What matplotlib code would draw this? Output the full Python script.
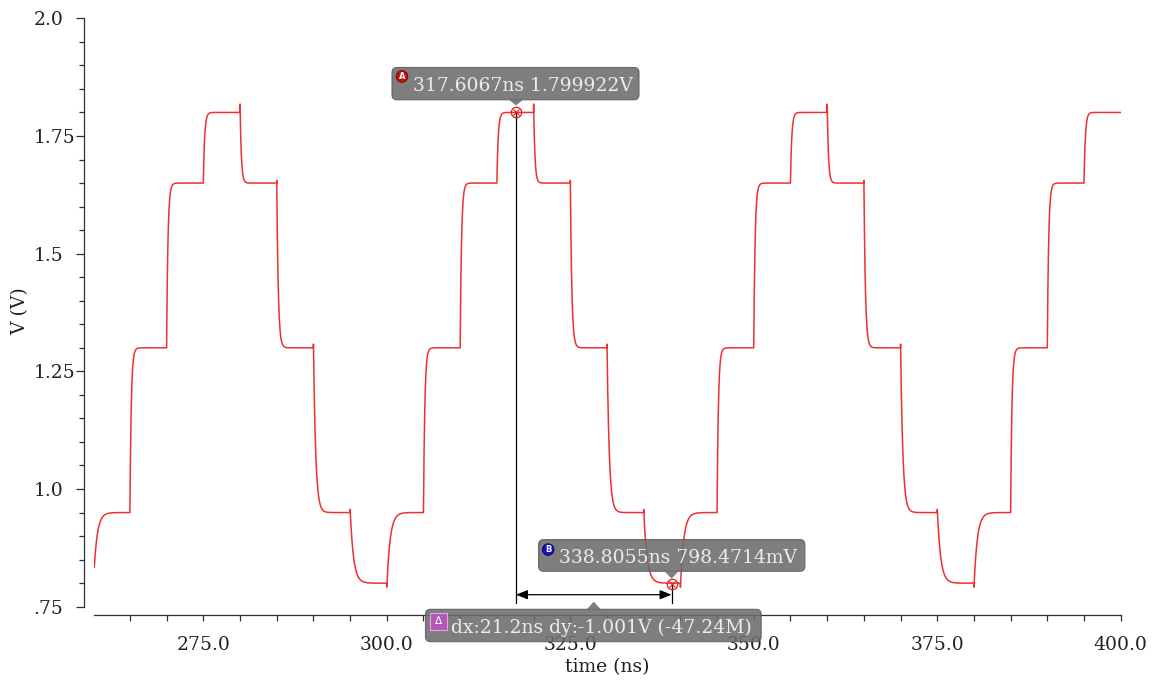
import numpy as np
import matplotlib
matplotlib.use("Agg")
import matplotlib.pyplot as plt
from matplotlib.patches import FancyBboxPatch, Polygon, Circle, Rectangle
from matplotlib.ticker import MultipleLocator, FixedLocator, FixedFormatter, FormatStrFormatter
from matplotlib.transforms import IdentityTransform

plt.rcParams["font.family"] = ["DejaVu Serif"]

# transient window (ns)
t_first, t_last = 260.15, 400.0
cycle_origin = 260.0
step_ns = 5.0

# output level of each 5 ns step (V); the pattern repeats every 40 ns
step_levels = [0.95, 1.30, 1.65, 1.80, 1.65, 1.30, 0.95, 0.80]
# switching glitch at the start of each step (V)
step_glitch = [-0.012, 0.0, 0.0, 0.0, 0.028, 0.024, 0.020, 0.010]
# settling time constant of each step (ns)
step_tau = [0.45, 0.18, 0.18, 0.18, 0.17, 0.20, 0.30, 0.45]

y_ticks = [0.75, 1.0, 1.25, 1.5, 1.75, 2.0]
y_tick_labels = [".75", "1.0", "1.25", "1.5", "1.75", "2.0"]

marker_a = (317.6067, 1.799922)
marker_b = (338.8055, 0.7984714)
label_a = "317.6067ns 1.799922V"
label_b = "338.8055ns 798.4714mV"
label_delta = "dx:21.2ns dy:-1.001V (-47.24M)"

# ---- build the staircase trace from the step table ----
lv = np.array(step_levels)
gl = np.array(step_glitch)
tau = np.array(step_tau)
t = np.arange(t_first, t_last, 0.01)
k = np.floor((t - cycle_origin) / step_ns).astype(int)
idx = k % len(lv)
target = lv[idx]
start = lv[(idx - 1) % len(lv)] + gl[idx]
dt = t - (cycle_origin + k * step_ns)
v = target + (start - target) * np.exp(-dt / tau[idx])

# ---- figure / axes ----
W, H = 1157, 684
fig = plt.figure(figsize=(W / 100, H / 100), dpi=100)
fig.patch.set_facecolor("white")
x0, x1, ytop, ybot = 94.3, 1120.7, 18.3, 606.7
ax = fig.add_axes([x0 / W, 1 - ybot / H, (x1 - x0) / W, (ybot - ytop) / H])
ax.set_facecolor("white")

ax.plot(t, v, color="#f03030", lw=1.1, zorder=2)
ax.set_xlim(t_first, t_last)
ax.set_ylim(0.75, 2.0)

PX = 0.72  # points per pixel at 100 dpi
for s in ("top", "right"):
    ax.spines[s].set_visible(False)
ax.spines["left"].set_position(("outward", 10.3 * PX))
ax.spines["bottom"].set_position(("outward", 8.3 * PX))
for s in ("left", "bottom"):
    ax.spines[s].set_color("#303030")
    ax.spines[s].set_linewidth(0.9)

ax.yaxis.set_major_locator(FixedLocator(y_ticks))
ax.yaxis.set_major_formatter(FixedFormatter(y_tick_labels))
ax.yaxis.set_minor_locator(MultipleLocator(0.05))
ax.xaxis.set_major_locator(MultipleLocator(25))
ax.xaxis.set_major_formatter(FormatStrFormatter("%.1f"))
ax.xaxis.set_minor_locator(MultipleLocator(5))

ax.tick_params(axis="y", which="major", length=8 * PX, width=0.9, pad=30.5,
               labelsize=13.5, color="#303030", labelcolor="#222222")
ax.tick_params(axis="y", which="minor", length=5 * PX, width=0.9, color="#303030")
ax.tick_params(axis="x", which="both", length=6 * PX, width=0.9, pad=10.5,
               labelsize=13.5, color="#303030", labelcolor="#222222")
plt.setp(ax.get_yticklabels(), ha="left")

fig.text(20 / W, 1 - 311 / H, "V (V)", rotation=90, ha="center", va="center",
         fontsize=13.5, color="#222222")
fig.text(607 / W, 1 - 667 / H, "time (ns)", ha="center", va="center",
         fontsize=13.5, color="#222222")

# ---- cursors ----
cursor_red = "#e02020"
line_bottom = 0.757
arrow_y = 0.7755
for (mx, my) in (marker_a, marker_b):
    ax.plot([mx, mx], [my, line_bottom], color="black", lw=0.9, zorder=3)
    ax.plot(mx, my, "o", ms=7.5, mfc="none", mec=cursor_red, mew=0.9, zorder=5)
    ax.plot(mx, my, "x", ms=4.5, mec=cursor_red, mew=0.8, zorder=5)
ax.annotate("", xy=(marker_b[0], arrow_y), xytext=(marker_a[0], arrow_y),
            arrowprops=dict(arrowstyle="<|-|>,head_length=0.7,head_width=0.28",
                            color="black", lw=0.9, mutation_scale=10,
                            shrinkA=0, shrinkB=0), zorder=4)

# ---- callout boxes (drawn in pixel space, y measured downward) ----
ident = IdentityTransform()
BOX_FC = "#6c6c6c"
BOX_ALPHA = 0.88
TXT = "#ececec"


def to_img(x, y):
    X, Y = ax.transData.transform((x, y))
    return X, H - Y


def P(x, y):
    return (x, H - y)


def callout(left, top, right, bottom, tip_x, tip_y, base_y):
    box = FancyBboxPatch(P(left, bottom), right - left, bottom - top,
                         boxstyle="round,pad=0,rounding_size=5", transform=ident,
                         fc=BOX_FC, ec="#5c5c5c", lw=0.8, alpha=BOX_ALPHA, zorder=6)
    fig.add_artist(box)
    tri = Polygon([P(tip_x - 7, base_y), P(tip_x + 7, base_y), P(tip_x, tip_y)],
                  closed=True, transform=ident, fc=BOX_FC, ec="none",
                  alpha=BOX_ALPHA, zorder=6)
    fig.add_artist(tri)


def round_icon(cx, cy, letter, fc, ec):
    fig.add_artist(Circle(P(cx, cy), 5.8, transform=ident, fc=fc, ec=ec, lw=0.6, zorder=7))
    fig.text(*P(cx, cy + 0.3), letter, transform=ident, ha="center", va="center",
             fontsize=6, fontweight="bold", color="white", family="DejaVu Sans", zorder=8)


def label(x, y, s):
    fig.text(*P(x, y), s, transform=ident, ha="left", va="baseline",
             fontsize=13.5, color=TXT, zorder=8)


# cursor A
axp, ayp = to_img(*marker_a)
top, bot = ayp - 45, ayp - 12.7
callout(axp - 124, top, axp + 123, bot, axp, ayp - 7, bot)
round_icon(axp - 114, ayp - 36, "A", "#c41010", "#7a0000")
label(axp - 103.3, (top + bot) / 2 + 7.5, label_a)

# cursor B
bxp, byp = to_img(*marker_b)
top, bot = byp - 44.3, byp - 12.6
callout(bxp - 133, top, bxp + 133.3, bot, bxp, byp - 5.3, bot)
round_icon(bxp - 123.4, byp - 34.3, "B", "#1414c0", "#00006a")
label(bxp - 112.4, (top + bot) / 2 + 7.5, label_b)

# delta readout below the arrow
mx = (axp + bxp) / 2
_, myp = to_img(0.5 * (marker_a[0] + marker_b[0]), arrow_y)
top, bot = myp + 14.6, myp + 47
callout(mx - 168.3, top, mx + 167.4, bot, mx, myp + 7, top)
fig.add_artist(Rectangle(P(mx - 163.3, myp + 18.3 + 16.7), 16.7, 16.7, transform=ident,
                         fc="#b058b4", ec="#e2a8e4", lw=0.8, zorder=7))
fig.text(*P(mx - 163.3 + 8.35, myp + 18.3 + 8.0), "\u0394", transform=ident,
         ha="center", va="center", fontsize=7.5, color="white", family="DejaVu Sans", zorder=8)
label(mx - 142.6, (top + bot) / 2 + 7.5, label_delta)

fig.savefig("out.png", dpi=100)
